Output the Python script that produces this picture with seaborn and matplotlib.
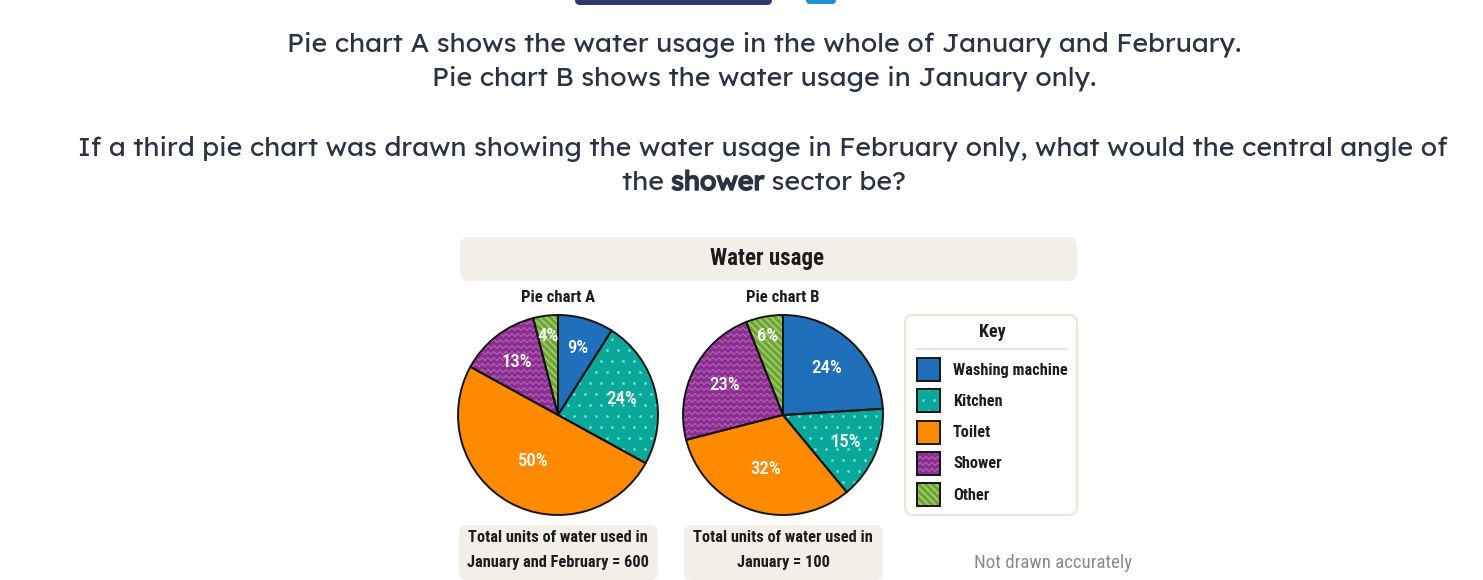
import numpy as np
import matplotlib
matplotlib.use("Agg")
import matplotlib.pyplot as plt
import matplotlib.patheffects as pe
import seaborn as sns
from matplotlib import font_manager
from matplotlib.patches import FancyBboxPatch, Rectangle, Wedge

# data
categories = ["Washing machine", "Kitchen", "Toilet", "Shower", "Other"]
pie_a_pct = [9, 24, 50, 13, 4]
pie_b_pct = [24, 15, 32, 23, 6]
pie_titles = ["Pie chart A", "Pie chart B"]
total_a_text = ["Total units of water used in", "January and February = 600"]
total_b_text = ["Total units of water used in", "January = 100"]
colors = ["#1f6fba", "#0aa89a", "#ff8a00", "#8b2f8f", "#6ea33a"]
textures = [None, "dots", None, "zigzag", "stripes"]
tex_colors = {"dots": "#6fe2d4", "zigzag": "#b463b8", "stripes": "#9fcd66"}

sns.set_theme(style="white")

names = {f.name for f in font_manager.fontManager.ttflist}


def pick(cands):
    for c in cands:
        if c in names:
            return c
    return "DejaVu Sans"


COND = pick(["Roboto Condensed", "Liberation Sans Narrow", "DejaVu Sans"])
UI = pick(["Lexend", "Outfit", "Inter", "Lato", "Open Sans"])
plt.rcParams["font.family"] = [COND, "DejaVu Sans"]

W, H = 1483, 580
fig = plt.figure(figsize=(W / 100, H / 100), dpi=100)
fig.patch.set_facecolor("white")

bg = fig.add_axes([0, 0, 1, 1])
bg.set_xlim(0, W)
bg.set_ylim(H, 0)
bg.axis("off")

TXT = "#2b3242"
DARK = "#1c1c1c"
PANEL = "#f2efe9"
QS = 19.3


def rbox(x0, y0, x1, y1, fc, ec="none", lw=0, r=8, z=1):
    p = FancyBboxPatch((x0, y0), x1 - x0, y1 - y0,
                       boxstyle=f"round,pad=0,rounding_size={r}",
                       fc=fc, ec=ec, lw=lw, zorder=z)
    bg.add_patch(p)
    return p


# bits of page header cut off at the top
rbox(575, -12, 772, 5, "#2d3a6b", r=5)
rbox(806, -10, 836, 4, "#1e8fd5", r=4)

# question text
bg.text(764, 45, "Pie chart A shows the water usage in the whole of January and February.",
        ha="center", va="center", fontsize=QS, color=TXT, family=UI)
bg.text(764, 79, "Pie chart B shows the water usage in January only.",
        ha="center", va="center", fontsize=QS, color=TXT, family=UI)
bg.text(763, 149, "If a third pie chart was drawn showing the water usage in February only, what would the central angle of",
        ha="center", va="center", fontsize=QS, color=TXT, family=UI)

renderer = fig.canvas.get_renderer()
parts = [("the ", False), ("shower", True), (" sector be?", False)]
arts = []
for s, bold in parts:
    t = bg.text(0, 183, s, ha="left", va="center", fontsize=QS,
                color=TXT, family=UI)
    if bold:
        t.set_path_effects([pe.withStroke(linewidth=1.1, foreground=TXT)])
    arts.append(t)
widths = [a.get_window_extent(renderer).width for a in arts]
x = 764 - sum(widths) / 2
for a, wd in zip(arts, widths):
    a.set_x(x)
    x += wd

# chart panel
rbox(460, 237, 1077, 281, PANEL, r=9)
bg.text(767, 259, "Water usage", ha="center", va="center", fontsize=16.5,
        fontweight="bold", color=DARK)


def add_texture(ax, clip, kind, s, ext):
    x0, x1, y0, y1 = ext
    col = tex_colors[kind]
    arts = []
    if kind == "dots":
        step = 11 * s
        xs, ys = [], []
        for j, yy in enumerate(np.arange(y0, y1 + step, step)):
            off = step / 2 if j % 2 else 0
            for xx in np.arange(x0 + off, x1 + step, step):
                xs.append(xx)
                ys.append(yy)
        arts.append(ax.scatter(xs, ys, s=4, color=col, linewidths=0, zorder=3))
    elif kind == "zigzag":
        step = 6 * s
        xx = np.arange(x0, x1 + 3 * s, 3 * s)
        amp = np.where(np.arange(len(xx)) % 2 == 0, 1.5 * s, -1.5 * s)
        for yy in np.arange(y0, y1 + step, step):
            arts += ax.plot(xx, yy + amp, color=col, lw=0.8, zorder=3)
    elif kind == "stripes":
        step = 7 * s
        span = (x1 - x0) + (y1 - y0)
        for c in np.arange(-span, span, step):
            xs = np.array([x0 - span, x1 + span])
            # top-left to bottom-right on screen
            ys = -(xs - x0) + y0 + c if s < 0.5 else (xs - x0) + y0 + c
            arts += ax.plot(xs, ys, color=col, lw=1.3, zorder=3,
                            solid_capstyle="butt")
    for a in arts:
        a.set_clip_path(clip)


def draw_pie(cx, cy, r, values, label_r):
    half = r * 1.02
    rect = [(cx - half) / W, (H - (cy + half)) / H, 2 * half / W, 2 * half / H]
    ax = fig.add_axes(rect)
    wedges, _ = ax.pie(values, colors=colors, startangle=90, counterclock=False,
                       wedgeprops=dict(edgecolor="none", linewidth=0))
    ax.set_xlim(-1.02, 1.02)
    ax.set_ylim(-1.02, 1.02)
    ax.set_aspect("equal")
    ax.axis("off")
    s = 1.0 / r
    for wdg, kind in zip(wedges, textures):
        wdg.set_zorder(2)
        if kind:
            add_texture(ax, wdg, kind, s, (-1, 1, -1, 1))
    # outlines on top of the textures
    for wdg in wedges:
        ax.add_patch(Wedge(wdg.center, wdg.r, wdg.theta1, wdg.theta2,
                           fc="none", ec="#151515", lw=1.4, zorder=4))
    for wdg, v, lr in zip(wedges, values, label_r):
        mid = np.deg2rad((wdg.theta1 + wdg.theta2) / 2)
        ax.text(lr * np.cos(mid), lr * np.sin(mid), f"{v}%", ha="center",
                va="center", color="white", fontsize=13.5, zorder=5,
                fontweight="medium")
    return ax


draw_pie(558, 415, 100, pie_a_pct, [0.70, 0.66, 0.52, 0.67, 0.80])
draw_pie(783, 415, 100, pie_b_pct, [0.64, 0.68, 0.57, 0.66, 0.80])

bg.text(558, 298, pie_titles[0], ha="center", va="center", fontsize=12,
        fontweight="bold", color=DARK)
bg.text(783, 298, pie_titles[1], ha="center", va="center", fontsize=12,
        fontweight="bold", color=DARK)

# key
rbox(905, 315, 1077, 515, "white", ec="#ebe7df", lw=1.6, r=8)
bg.text(992, 332, "Key", ha="center", va="center", fontsize=13,
        fontweight="bold", color=DARK)
bg.plot([916, 1067], [349, 349], color="#ebe7df", lw=1.6)
for i, (cat, col, kind) in enumerate(zip(categories, colors, textures)):
    y0 = 358 + i * 31.3
    sw = Rectangle((917, y0), 23, 23, fc=col, ec="none", zorder=2)
    bg.add_patch(sw)
    if kind:
        add_texture(bg, sw, kind, 1.0, (917, 940, y0, y0 + 23))
    bg.add_patch(Rectangle((917, y0), 23, 23, fc="none", ec="#151515",
                           lw=1.4, zorder=4))
    bg.text(953, y0 + 12, cat, ha="left", va="center", fontsize=11.7,
            fontweight="bold", color=DARK)

# totals
rbox(459, 525, 658, 580, PANEL, r=8)
rbox(684, 525, 883, 580, PANEL, r=8)
bg.text(558, 538, total_a_text[0], ha="center", va="center", fontsize=11.8,
        fontweight="bold", color=DARK)
bg.text(558, 562, total_a_text[1], ha="center", va="center", fontsize=11.8,
        fontweight="bold", color=DARK)
bg.text(783, 538, total_b_text[0], ha="center", va="center", fontsize=11.8,
        fontweight="bold", color=DARK)
bg.text(783, 562, total_b_text[1], ha="center", va="center", fontsize=11.8,
        fontweight="bold", color=DARK)
bg.text(1053, 563, "Not drawn accurately", ha="center", va="center",
        fontsize=13.6, color="#8a8a8a")

fig.savefig("out.png", dpi=100)
